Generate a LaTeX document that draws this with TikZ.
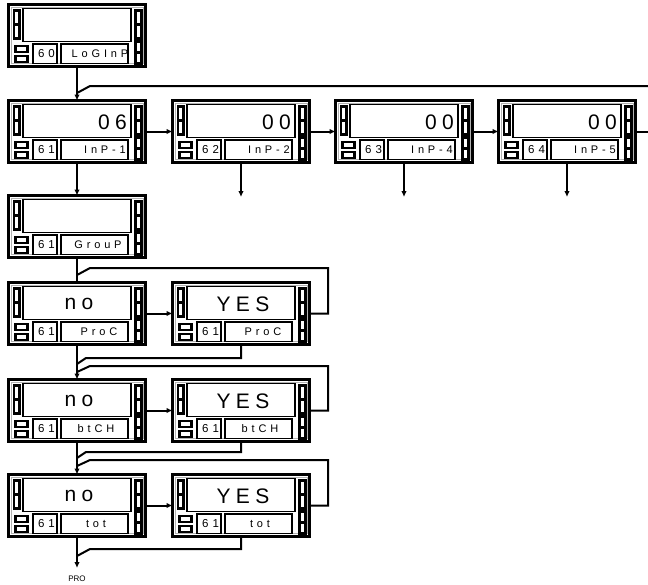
\documentclass[tikz,border=0pt]{standalone}
\usepackage{fontspec}
\setmainfont{Liberation Sans}
\newfontfamily\lcdbig[LetterSpace=25]{Liberation Sans}
\newfontfamily\lcdsmall[LetterSpace=35]{Liberation Sans}
\usetikzlibrary{arrows.meta}
\tikzset{
  devbox/.style={draw, line width=2.2pt, minimum width=137pt, minimum height=62pt, inner sep=0pt, outer sep=0pt},
  devinner/.style={draw=gray!60, line width=0.6pt},
  disp/.style={draw, line width=1.8pt, fill=white},
  ind/.style={draw, line width=2.2pt, fill=white},
  bigtxt/.style={font=\lcdbig\fontsize{21pt}{21pt}\selectfont, inner sep=0pt},
  numtxt/.style={font=\lcdsmall\fontsize{11.5pt}{11.5pt}\selectfont, inner sep=0pt},
  labtxt/.style={font=\lcdsmall\fontsize{11pt}{11pt}\selectfont, inner sep=0pt},
  conn/.style={draw, line width=2pt, line join=miter},
  arr/.style={conn, -{Latex[length=6pt,width=5.5pt]}},
  prolab/.style={font=\fontsize{8pt}{8pt}\selectfont, inner sep=0pt}
}
\newcommand\devicebox[8]{%
\begin{scope}[shift={(#2,#3)}]
  \node[devbox] (#1) at (69,31.5) {};
  \draw[devinner] (2.8,2.8) rectangle (135.2,59.2);
  \draw[disp] (14.7,4.5) rectangle (123,37.5);
  \draw[ind] (6,6.5) rectangle (11.5,20.5);
  \draw[ind] (6,20.5) rectangle (11.5,34.5);
  \draw[ind] (127.5,6.5) rectangle (133.5,20.5);
  \draw[ind] (127.5,20.5) rectangle (133.5,34.5);
  \draw[ind] (127.5,37.5) rectangle (133.5,48.5);
  \draw[ind] (127.5,48.5) rectangle (133.5,59.5);
  \draw[ind] (7.5,42.3) rectangle (19.5,48);
  \draw[ind] (7.5,52) rectangle (19.5,57.7);
  \draw[disp] (25,40) rectangle (49,59.5);
  \draw[disp] (53,40) rectangle (120,59.5);
  \node[bigtxt,#5] (#1-d) {#4};
  \node[numtxt] (#1-n) at (38.5,50) {#6};
  \node[labtxt,#8] (#1-l) {#7};
\end{scope}}
\begin{document}
\begin{tikzpicture}[x=1pt,y=-1pt]
\useasboundingbox (0,0) rectangle (648,584);
% devices
\devicebox{d0}{8}{4}{}{at={(70,21)}}{60}{LoGInP}{at={(92,50)}}
\devicebox{d1}{8}{100}{06}{anchor=east,at={(119,22)}}{61}{InP-1}{anchor=east,at={(118,50)}}
\devicebox{d2}{172}{100}{00}{anchor=east,at={(119,22)}}{62}{InP-2}{anchor=east,at={(118,50)}}
\devicebox{d3}{335}{100}{00}{anchor=east,at={(119,22)}}{63}{InP-4}{anchor=east,at={(118,50)}}
\devicebox{d4}{498}{100}{00}{anchor=east,at={(119,22)}}{64}{InP-5}{anchor=east,at={(118,50)}}
\devicebox{dg}{8}{195}{}{at={(70,21)}}{61}{GrouP}{at={(90,50)}}
\devicebox{pn}{8}{282}{no}{at={(71,22)}}{61}{ProC}{at={(91,50)}}
\devicebox{py}{172}{282}{YES}{at={(71,22)}}{61}{ProC}{at={(91,50)}}
\devicebox{bn}{8}{379}{no}{at={(71,22)}}{61}{btCH}{at={(88,50)}}
\devicebox{by}{172}{379}{YES}{at={(71,22)}}{61}{btCH}{at={(88,50)}}
\devicebox{tn}{8}{474}{no}{at={(71,22)}}{61}{tot}{at={(88,50)}}
\devicebox{ty}{172}{474}{YES}{at={(71,22)}}{61}{tot}{at={(88,50)}}
% free-end coordinates
\coordinate (e0) at (648,86);
\coordinate (j0) at (77,93);
\coordinate (e1) at (648,131.5);
\coordinate (a2) at (241,197);
\coordinate (a3) at (404,197);
\coordinate (a4) at (567,197);
\coordinate (l1) at (328,268);
\coordinate (j1) at (77,275);
\coordinate (r1) at (241,358);
\coordinate (j2) at (77,364);
\coordinate (l2) at (328,366);
\coordinate (j3) at (77,372);
\coordinate (r2) at (241,452);
\coordinate (j4) at (77,458);
\coordinate (l3) at (328,460);
\coordinate (j5) at (77,466);
\coordinate (r3) at (241,549);
\coordinate (j6) at (77,556);
\coordinate (pro) at (77,568);
% connectors
\draw[arr] (d0.south) -- (d1.north);
\draw[conn] (e0) -- (90,86) -- (j0);
\draw[arr] (d1.east) -- (d2.west);
\draw[arr] (d2.east) -- (d3.west);
\draw[arr] (d3.east) -- (d4.west);
\draw[conn] (d4.east) -- (e1);
\draw[arr] (d2.south) -- (a2);
\draw[arr] (d3.south) -- (a3);
\draw[arr] (d4.south) -- (a4);
\draw[arr] (d1.south) -- (dg.north);
\draw[conn] (dg.south) -- (pn.north);
\draw[conn] (py.east) -| (l1) -- (90,268) -- (j1);
\draw[arr] (pn.east) -- (py.west);
\draw[arr] (pn.south) -- (bn.north);
\draw[conn] (py.south) -- (r1) -- (86,358) -- (j2);
\draw[conn] (by.east) -| (l2) -- (90,366) -- (j3);
\draw[arr] (bn.east) -- (by.west);
\draw[arr] (bn.south) -- (tn.north);
\draw[conn] (by.south) -- (r2) -- (86,452) -- (j4);
\draw[conn] (ty.east) -| (l3) -- (90,460) -- (j5);
\draw[arr] (tn.east) -- (ty.west);
\draw[arr] (tn.south) -- (pro);
\draw[conn] (ty.south) -- (r3) -- (90,549) -- (j6);
\node[prolab] (prot) at (77,579) {PRO};
\end{tikzpicture}
\end{document}
